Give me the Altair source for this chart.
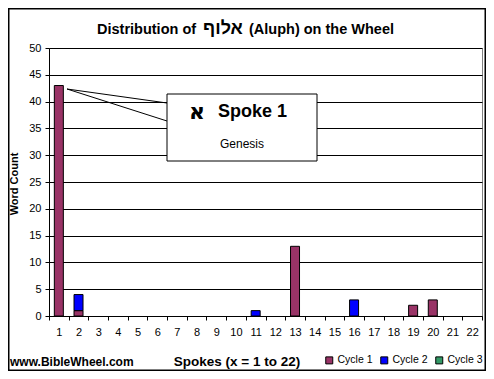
import altair as alt
import pandas as pd

spokes = list(range(1, 23))
cycles = ["Cycle 1", "Cycle 2", "Cycle 3"]
colors = ["#993366", "#0000FF", "#339966"]
cycle1 = [43, 1, 0, 0, 0, 0, 0, 0, 0, 0, 0, 0, 13, 0, 0, 0, 0, 0, 2, 3, 0, 0]
cycle2 = [0, 3, 0, 0, 0, 0, 0, 0, 0, 0, 1, 0, 0, 0, 0, 3, 0, 0, 0, 0, 0, 0]
cycle3 = [0] * 22

rows = []
for i, s in enumerate(spokes):
    for c, vals in zip(cycles, [cycle1, cycle2, cycle3]):
        rows.append({"spoke": s, "cycle": c, "order": cycles.index(c), "count": vals[i]})
df = pd.DataFrame(rows)

W, H = 433, 268
FONT = "Liberation Sans"

bars = alt.Chart(df).mark_bar(width=9, stroke="black", strokeWidth=1, strokeOpacity=1).encode(
    x=alt.X("spoke:O", sort=spokes,
            scale=alt.Scale(domain=spokes, paddingInner=0, paddingOuter=0),
            axis=alt.Axis(title=None, labelAngle=0, tickBand="extent", tickSize=4,
                          labelPadding=6, domainColor="black", tickColor="black",
                          labelColor="black", labelFontSize=11, labelFont=FONT, grid=False)),
    y=alt.Y("count:Q", stack="zero", scale=alt.Scale(domain=[0, 50], nice=False),
            axis=alt.Axis(title=None, values=list(range(0, 51, 5)), tickSize=4, labelPadding=4,
                          domainColor="black", tickColor="black", labelColor="black",
                          labelFontSize=11, labelFont=FONT, grid=True, gridColor="black",
                          gridOpacity=1, gridWidth=1)),
    color=alt.Color("cycle:N", scale=alt.Scale(domain=cycles, range=colors),
                    legend=alt.Legend(title=None, orient="none", legendX=275, legendY=307,
                                      direction="horizontal", symbolType="square",
                                      symbolSize=49, symbolStrokeColor="black",
                                      symbolStrokeWidth=1, symbolOpacity=1,
                                      labelFontSize=10.5, labelFont=FONT, labelColor="black",
                                      labelOffset=3, columnPadding=5)),
    order=alt.Order("order:Q"),
).transform_filter(alt.datum.count > 0)

ox, oy = 49, 48

line_df = pd.DataFrame({"k": [0]})
l1 = alt.Chart(line_df).mark_rule(color="black", strokeWidth=1).encode(
    x=alt.value(67 - ox), y=alt.value(89 - oy), x2=alt.value(167 - ox), y2=alt.value(103 - oy))
l2 = alt.Chart(line_df).mark_rule(color="black", strokeWidth=1).encode(
    x=alt.value(67 - ox), y=alt.value(89 - oy), x2=alt.value(167 - ox), y2=alt.value(121 - oy))
box = alt.Chart(line_df).mark_rect(fill="white", stroke="black", strokeWidth=1).encode(
    x=alt.value(167 - ox), y=alt.value(94 - oy), x2=alt.value(317 - ox), y2=alt.value(161 - oy))

def txt(text, x, y, size, bold=False, align="center", angle=0, font=FONT):
    kw = dict(text=text, fontSize=size, font=font, color="black", align=align,
              baseline="middle", fontWeight="bold" if bold else "normal")
    if angle:
        kw["angle"] = angle
    return alt.Chart(line_df).mark_text(**kw).encode(x=alt.value(x - ox), y=alt.value(y - oy))

texts = [
    txt("Distribution of", 97, 30, 14.5, bold=True, align="left"),
    txt("אלוף", 223, 29, 18, bold=True),
    txt("(Aluph) on the Wheel", 249, 30, 14.5, bold=True, align="left"),
    txt("א", 197, 112, 22, bold=True, font="DejaVu Sans"),
    txt("Spoke 1", 218, 112, 18, bold=True, align="left"),
    txt("Genesis", 242, 144, 12),
    txt("Word Count", 15, 184, 11, bold=True, angle=270),
    txt("www.BibleWheel.com", 10, 362, 12, bold=True, align="left"),
    txt("Spokes (x = 1 to 22)", 237, 362, 13.5, bold=True),
]

frame = alt.Chart(line_df).mark_rect(fill=None, stroke="black", strokeWidth=1.5).encode(
    x=alt.value(-41 + 0.75), y=alt.value(-40 + 0.75), x2=alt.value(437 - 0.75), y2=alt.value(323 - 0.75))

chart = alt.layer(bars, l1, l2, box, *texts, frame).properties(
    width=W, height=H,
    autosize=alt.AutoSizeParams(type="none"),
    padding={"left": 41, "top": 40, "right": 4, "bottom": 55},
    background="white",
).configure_view(stroke="#808080", strokeWidth=1).configure_axis(labelFont=FONT)

chart.save("out.html", embed_options={"renderer": "svg", "actions": False})
